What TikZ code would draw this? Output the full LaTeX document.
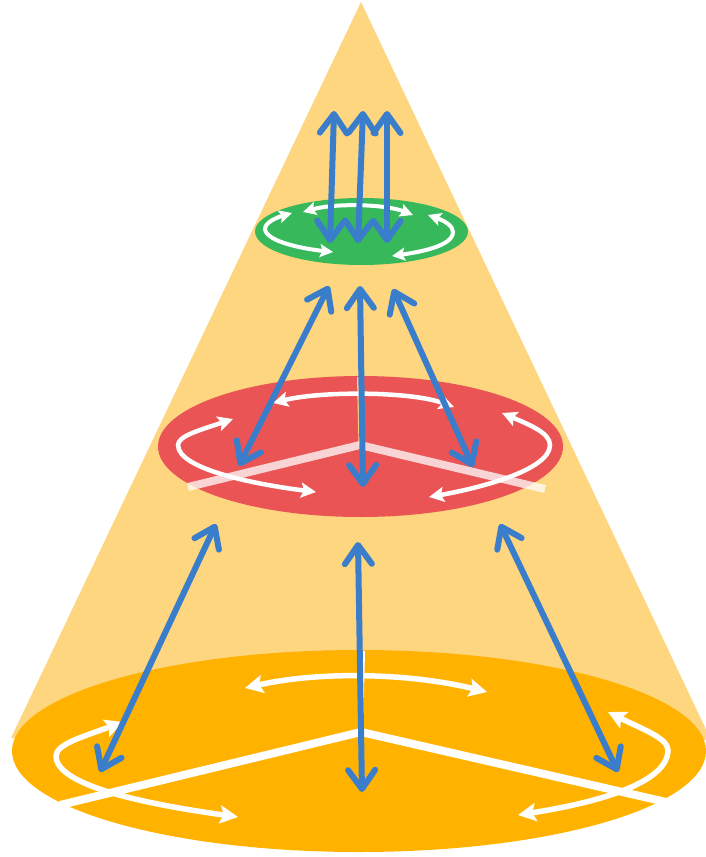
\documentclass[tikz,border=0pt]{standalone}
\usetikzlibrary{arrows.meta}
\definecolor{coneC}{HTML}{FDD67F}
\definecolor{baseC}{HTML}{FFB300}
\definecolor{redC}{HTML}{EA5455}
\definecolor{greenC}{HTML}{37B85A}
\definecolor{blueC}{HTML}{3A7DCB}
\tikzset{
  bluearr/.style={draw=blueC, line width=6pt, line cap=round,
    {Straight Barb[length=19pt,width=27pt,line cap=round,line join=round]}-{Straight Barb[length=19pt,width=27pt,line cap=round,line join=round]}},
  whitearr/.style={draw=white, line width=5.5pt,
    {Stealth[length=18pt,width=18pt,inset=3.5pt]}-{Stealth[length=18pt,width=18pt,inset=3.5pt]}},
  whitearrs/.style={draw=white, line width=4.5pt,
    {Stealth[length=15pt,width=15pt,inset=3pt]}-{Stealth[length=15pt,width=15pt,inset=3pt]}},
  whitearrg/.style={draw=white, line width=4pt,
    {Stealth[length=13pt,width=13pt,inset=2.5pt]}-{Stealth[length=13pt,width=13pt,inset=2.5pt]}},
  spoke/.style={draw=white, line width=8pt},
  palespoke/.style={draw=white, draw opacity=0.75, line width=8pt},
}
\begin{document}
\begin{tikzpicture}[x=1pt,y=-1pt]
\useasboundingbox (0,0) rectangle (705,857);
% cone
\coordinate (apex) at (361,2);
\coordinate (cl) at (11,738);
\coordinate (cm) at (359,751);
\coordinate (cr) at (711,740);
\fill[coneC] (apex) -- (cl) -- (cm) -- (cr) -- cycle;
% base disc
\fill[baseC] (359,751) ellipse [x radius=347, y radius=101];
% base spokes
\coordinate (bc) at (361,732);
\coordinate (bl) at (60,805);
\coordinate (br) at (666,802);
\coordinate (bt) at (363,651);
\draw[spoke] (bl) -- (bc) -- (br);
\draw[draw=white, line width=4pt] (bt) -- (bc);
% base arcs
\coordinate (b1) at (245,688); \coordinate (b2) at (487,692);
\draw[whitearr] (b1) .. controls (320,671) and (410,673) .. (b2);
\coordinate (b3) at (123,722); \coordinate (b4) at (56,756); \coordinate (b5) at (238,817);
\draw[whitearr] (b3) .. controls (85,736) and (56,744) .. (b4) .. controls (56,788) and (160,806) .. (b5);
\coordinate (b6) at (608,712); \coordinate (b7) at (668,750); \coordinate (b8) at (518,815);
\draw[whitearr] (b6) .. controls (640,728) and (668,738) .. (b7) .. controls (668,788) and (575,806) .. (b8);
% red disc
\fill[redC] (360.5,446.5) ellipse [x radius=202.5, y radius=70.5];
\coordinate (rc) at (360,445);
\coordinate (rl) at (188,487);
\coordinate (rr) at (545,489);
\coordinate (rt) at (358.5,377);
\draw[draw=coneC, line width=3pt] (rt) -- (rc);
\draw[palespoke] (rl) -- (rc) -- (rr);
\coordinate (r1) at (273,403); \coordinate (r2) at (454,407);
\draw[whitearrs] (r1) .. controls (320,391) and (410,391) .. (r2);
\coordinate (r3) at (233,419); \coordinate (r4) at (178,445); \coordinate (r5) at (316,492);
\draw[whitearrs] (r3) .. controls (200,430) and (178,436) .. (r4) .. controls (178,470) and (260,485) .. (r5);
\coordinate (r6) at (502,413); \coordinate (r7) at (550,445); \coordinate (r8) at (429,497);
\draw[whitearrs] (r6) .. controls (530,425) and (550,433) .. (r7) .. controls (550,470) and (480,488) .. (r8);
% green disc
\fill[greenC] (361.5,231.5) ellipse [x radius=106.5, y radius=33.5];
\coordinate (g1) at (303,212); \coordinate (g2) at (413,215);
\draw[whitearrg] (g1) .. controls (335,203) and (385,204) .. (g2);
\coordinate (g3) at (292,213); \coordinate (g4) at (265,229); \coordinate (g5) at (333,252);
\draw[whitearrg] (g3) .. controls (275,218) and (265,223) .. (g4) .. controls (266,242) and (305,249) .. (g5);
\coordinate (g6) at (428,215); \coordinate (g7) at (453,232); \coordinate (g8) at (392,256);
\draw[whitearrg] (g6) .. controls (445,221) and (453,226) .. (g7) .. controls (453,246) and (420,252) .. (g8);
% blue arrows: top
\coordinate (t1a) at (334,111); \coordinate (t1b) at (330,243);
\coordinate (t2a) at (363,111); \coordinate (t2b) at (358,243);
\coordinate (t3a) at (387,111); \coordinate (t3b) at (387,243);
\draw[bluearr] (t1a) -- (t1b);
\draw[bluearr] (t2a) -- (t2b);
\draw[bluearr] (t3a) -- (t3b);
% blue arrows: middle
\coordinate (m1a) at (329,286); \coordinate (m1b) at (239,466);
\coordinate (m2a) at (360,286); \coordinate (m2b) at (363,487);
\coordinate (m3a) at (393,289); \coordinate (m3b) at (473,467);
\draw[bluearr] (m1a) -- (m1b);
\draw[bluearr] (m2a) -- (m2b);
\draw[bluearr] (m3a) -- (m3b);
% blue arrows: bottom
\coordinate (l1a) at (216,524); \coordinate (l1b) at (100,772);
\coordinate (l2a) at (358,542); \coordinate (l2b) at (362,792);
\coordinate (l3a) at (500,524); \coordinate (l3b) at (618,772);
\draw[bluearr] (l1a) -- (l1b);
\draw[bluearr] (l2a) -- (l2b);
\draw[bluearr] (l3a) -- (l3b);
\end{tikzpicture}
\end{document}
